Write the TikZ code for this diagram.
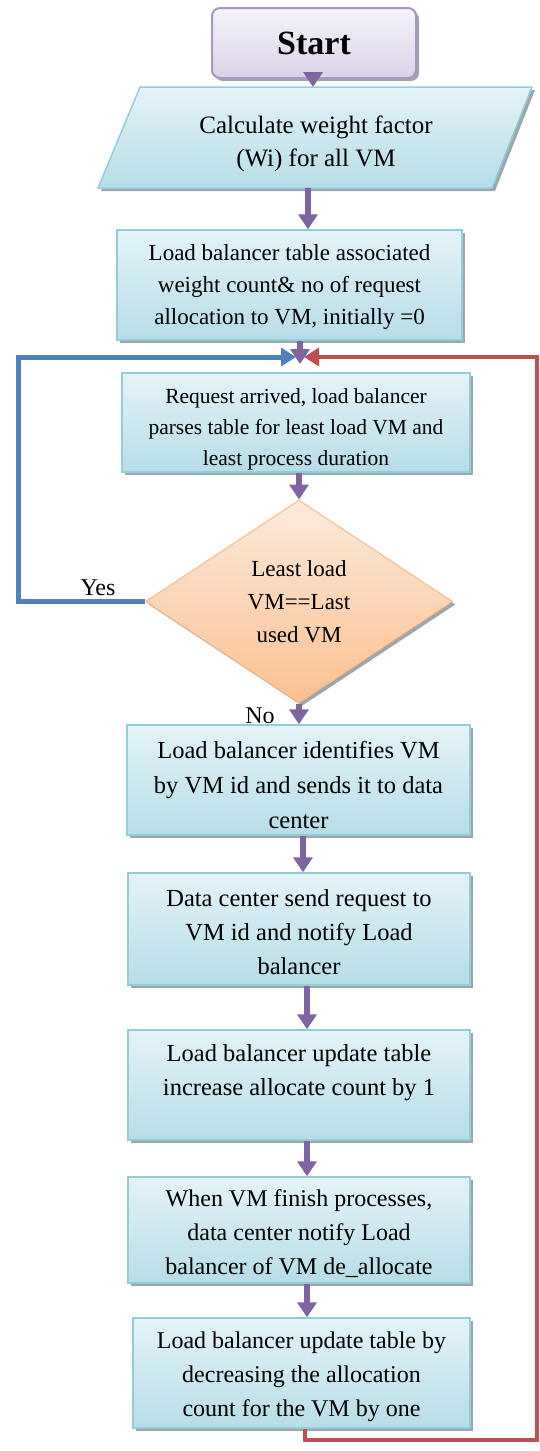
\documentclass[tikz,border=0pt]{standalone}
\usepackage{fontspec}
\setmainfont{Liberation Serif}
\usetikzlibrary{arrows.meta,shapes.geometric,shadows}
\definecolor{boxfillA}{HTML}{E4F3F7}
\definecolor{boxfillB}{HTML}{B6DDE8}
\definecolor{boxdraw}{HTML}{92CDDC}
\definecolor{dfillA}{HTML}{FDEBDC}
\definecolor{dfillB}{HTML}{FAC090}
\definecolor{ddraw}{HTML}{F6B98A}
\definecolor{sfillA}{HTML}{F6F3FA}
\definecolor{sfillB}{HTML}{DAD2E7}
\definecolor{sdraw}{HTML}{A897C6}
\definecolor{flowc}{HTML}{8064A2}
\definecolor{yesc}{HTML}{4F81BD}
\definecolor{loopc}{HTML}{C0504D}
\definecolor{shadowc}{HTML}{8C989C}
\tikzset{
  shad/.style={drop shadow={shadow xshift=3pt, shadow yshift=-3pt, fill=shadowc, opacity=0.85}},
  procbox/.style={rectangle, draw=boxdraw, line width=1.5pt, top color=boxfillA, bottom color=boxfillB, shad, inner sep=0pt},
  parashape/.style={draw=boxdraw, line width=1.5pt, top color=boxfillA, bottom color=boxfillB, shad},
  startbox/.style={rectangle, rounded corners=8pt, draw=sdraw, line width=2pt, top color=sfillA, bottom color=sfillB, shad, inner sep=0pt, minimum width=204pt, minimum height=70pt, font=\fontsize{34}{38}\selectfont\bfseries},
  decision/.style={diamond, draw=ddraw, line width=1pt, top color=dfillA, bottom color=dfillB, shad, inner sep=0pt, minimum width=307pt, minimum height=203pt, align=center, font=\fontsize{23}{33}\selectfont},
  boxtext/.style={align=center, inner sep=0pt, text=black},
  flow/.style={draw=flowc, line width=5.5pt, -{Triangle[width=19pt,length=15pt]}},
  yesline/.style={draw=yesc, line width=5pt, -{Triangle[width=18pt,length=15pt]}},
  loopline/.style={draw=loopc, line width=4.5pt, -{Triangle[width=18pt,length=15pt]}},
  lbl/.style={inner sep=0pt, font=\fontsize{24}{28}\selectfont}
}
\begin{document}
\begin{tikzpicture}[x=1pt,y=-1pt]
\useasboundingbox (0,0) rectangle (540,1451);
% start
\node[startbox] (start) at (314,43) {Start};
% parallelogram
\path[parashape] (140,87) coordinate (p1) -- (532,87) coordinate (p2) -- (492,188) coordinate (p3) -- (98,188) coordinate (p4) -- cycle;
\node[boxtext, font=\fontsize{25}{33}\selectfont] (para) at (316,143.5) {Calculate weight factor\\(Wi) for all VM};
% boxes
\node[procbox, minimum width=345pt, minimum height=110pt] (b2) at (289.5,285) {};
\node[boxtext, font=\fontsize{23}{32}\selectfont] (t2) at (289.5,286.5) {Load balancer table associated\\weight count\& no of request\\allocation to VM, initially =0};
\node[procbox, minimum width=348pt, minimum height=99pt] (b3) at (296,422.5) {};
\node[boxtext, font=\fontsize{21.5}{31}\selectfont] (t3) at (296,429) {Request arrived, load balancer\\parses table for least load VM and\\least process duration};
\node[decision] (d) at (299,601.5) {Least load\\VM==Last\\used VM};
\node[procbox, minimum width=343pt, minimum height=110pt] (b4) at (298.5,780) {};
\node[boxtext, font=\fontsize{24.5}{35}\selectfont] (t4) at (298.5,785) {Load balancer identifies VM\\by VM id and sends it to data\\center};
\node[procbox, minimum width=342pt, minimum height=112pt] (b5) at (299,929) {};
\node[boxtext, font=\fontsize{24.5}{34}\selectfont] (t5) at (299,932) {Data center send request to\\VM id and notify Load\\balancer};
\node[procbox, minimum width=342pt, minimum height=110pt] (b6) at (299,1085) {};
\node[boxtext, font=\fontsize{24.5}{34}\selectfont] (t6) at (299,1073) {Load balancer update table\\increase allocate count by 1};
\node[procbox, minimum width=342pt, minimum height=106pt] (b7) at (299,1230) {};
\node[boxtext, font=\fontsize{24}{34}\selectfont] (t7) at (299,1234) {When VM finish processes,\\data center notify Load\\balancer of VM de\_allocate};
\node[procbox, minimum width=337pt, minimum height=110pt] (b8) at (301.5,1373) {};
\node[boxtext, font=\fontsize{24}{34}\selectfont] (t8) at (301.5,1377) {Load balancer update table by\\decreasing the allocation\\count for the VM by one};
% labels
\node[lbl] (yes) at (98,588) {Yes};
\node[lbl] (no) at (260,716) {No};
% helper coordinates
\coordinate (cs) at (313,87);
\coordinate (cp) at (308,188);
\coordinate (J) at (300,364);
\coordinate (c45) at (303,0);
\coordinate (c56) at (307,0);
\coordinate (r0) at (305,0);
\coordinate (rb) at (537,1440);
\coordinate (rj) at (304,357);
\coordinate (bl) at (18,357);
\coordinate (bj) at (296,357);
% connectors
\draw[flow] (start.south -| cs) -- (cs);
\draw[flow] (cp) -- (b2.north -| cp);
\draw[flow] (b2.south -| J) -- (J);
\draw[flow] (b3.south -| d.north) -- (d.north);
\draw[flow] (d.south) -- (b4.north -| d.south);
\draw[flow] (b4.south -| c45) -- (b5.north -| c45);
\draw[flow] (b5.south -| c56) -- (b6.north -| c56);
\draw[flow] (b6.south -| c56) -- (b7.north -| c56);
\draw[flow] (b7.south -| c56) -- (b8.north -| c56);
\draw[yesline] (d.west) -| (bl) -- (bj);
\draw[loopline] (b8.south -| r0) |- (rb) |- (rj);
\end{tikzpicture}
\end{document}
